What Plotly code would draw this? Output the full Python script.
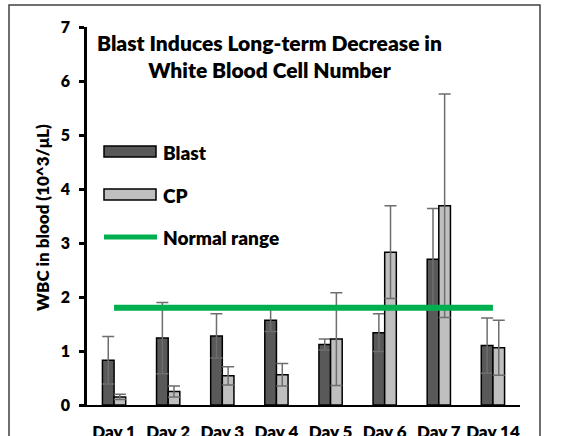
import plotly.graph_objects as go

days = ["Day 1", "Day 2", "Day 3", "Day 4", "Day 5", "Day 6", "Day 7", "Day 14"]
blast = [0.83, 1.24, 1.28, 1.57, 1.12, 1.34, 2.70, 1.10]
blast_err = [0.44, 0.66, 0.41, 0.21, 0.10, 0.35, 0.94, 0.51]
cp = [0.15, 0.25, 0.54, 0.56, 1.22, 2.83, 3.69, 1.06]
cp_err = [0.05, 0.10, 0.17, 0.21, 0.86, 0.86, 2.07, 0.51]
normal = [1.8] * len(days)

FONT = "Lato"
WT = 800
L, R, T, B = 87, 41, 27, 31
W, H = 561, 436
PW, PH = W - L - R, H - T - B

def px(x):
    return (x - L) / PW

def py(y):
    return (H - B - y) / PH

fig = go.Figure()
fig.add_trace(go.Bar(
    x=days, y=blast, name="Blast",
    marker=dict(color="#595959", line=dict(color="black", width=1.5)),
    error_y=dict(type="data", array=blast_err, color="#6E6E6E", thickness=1.5, width=6),
    showlegend=False,
))
fig.add_trace(go.Bar(
    x=days, y=cp, name="CP",
    marker=dict(color="#BFBFBF", line=dict(color="black", width=1.5)),
    error_y=dict(type="data", array=cp_err, color="#6E6E6E", thickness=1.5, width=6),
    showlegend=False,
))
fig.add_trace(go.Scatter(
    x=days, y=normal, name="Normal range", mode="lines",
    line=dict(color="#00B050", width=6),
    showlegend=False,
))

shapes = [
    dict(type="rect", xref="paper", yref="paper",
         x0=px(9), x1=px(540), y0=py(470), y1=py(5),
         line=dict(color="#404040", width=1.5), fillcolor="rgba(0,0,0,0)", layer="below"),
    dict(type="rect", xref="paper", yref="paper",
         x0=px(104), x1=px(156), y0=py(157), y1=py(146),
         line=dict(color="black", width=1.5), fillcolor="#595959"),
    dict(type="rect", xref="paper", yref="paper",
         x0=px(104), x1=px(156), y0=py(200), y1=py(189),
         line=dict(color="black", width=1.5), fillcolor="#BFBFBF"),
    dict(type="line", xref="paper", yref="paper",
         x0=px(104), x1=px(157), y0=py(237), y1=py(237),
         line=dict(color="#00B050", width=5)),
]

def tfont(size):
    return dict(family=FONT, size=size, color="black", weight=WT)

annotations = [
    dict(text="Blast Induces Long-term Decrease in<br>White Blood Cell Number",
         xref="paper", yref="paper", x=px(269), y=py(56), xanchor="center", yanchor="middle",
         showarrow=False, font=tfont(21), align="center"),
    dict(text="Blast", xref="paper", yref="paper", x=px(161), y=py(152),
         xanchor="left", yanchor="middle", showarrow=False, font=tfont(19)),
    dict(text="CP", xref="paper", yref="paper", x=px(161), y=py(195),
         xanchor="left", yanchor="middle", showarrow=False, font=tfont(19)),
    dict(text="Normal range", xref="paper", yref="paper", x=px(161), y=py(237),
         xanchor="left", yanchor="middle", showarrow=False, font=tfont(19)),
    dict(text="WBC in blood (10^3/μL)", xref="paper", yref="paper",
         x=px(42), y=py(218), xanchor="center", yanchor="middle", textangle=-90,
         showarrow=False, font=tfont(17)),
]

fig.update_layout(
    width=W, height=H,
    margin=dict(l=L, r=R, t=T, b=B, autoexpand=False),
    paper_bgcolor="white", plot_bgcolor="white",
    barmode="group", bargap=0.57, bargroupgap=0,
    shapes=shapes, annotations=annotations,
    font=dict(family=FONT, color="black"),
)
fig.update_xaxes(
    range=[-0.5, 7.5], showline=True, linecolor="black", linewidth=2,
    ticks="", showgrid=False, ticklabelstandoff=11, automargin=False,
    tickfont=tfont(17),
)
fig.update_yaxes(
    range=[0, 7], dtick=1, showline=True, linecolor="black", linewidth=2.5,
    ticks="outside", ticklen=5, tickwidth=2.5, tickcolor="black",
    showgrid=False, zeroline=False, automargin=False, ticklabelstandoff=6,
    tickfont=tfont(16),
)

fig.write_html("out.html")
